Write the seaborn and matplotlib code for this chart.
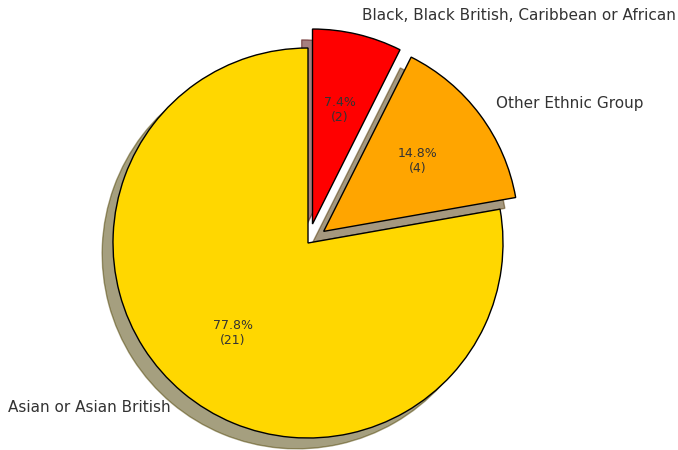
import matplotlib
matplotlib.use("Agg")
import matplotlib.pyplot as plt
import seaborn as sns

# ethnic group breakdown (counts)
groups = ["Black, Black British, Caribbean or African",
          "Other Ethnic Group",
          "Asian or Asian British"]
counts = [2, 4, 21]
slice_colors = ["#FF0000", "#FFA500", "#FFD700"]
explode = [0.1, 0.1, 0]

sns.set_theme(style="white")
plt.rcParams['font.family'] = ['DejaVu Sans']

total = sum(counts)


def pct_fmt(p):
    return f"{p:.1f}%\n({round(p * total / 100)})"


fig = plt.figure(figsize=(6.78, 4.5), dpi=100)
ax = fig.add_axes([0, 0, 1, 1])
wedges, texts, autotexts = ax.pie(
    counts, labels=groups, colors=sns.color_palette(slice_colors),
    explode=explode, startangle=90, counterclock=False,
    autopct=pct_fmt, shadow={'ox': -0.04, 'oy': -0.04},
    wedgeprops={'edgecolor': 'black', 'linewidth': 1},
    textprops={'fontsize': 11, 'color': '.2'})
for t in autotexts:
    t.set_fontsize(9)

ax.set_xlim(-1.5795, 1.8974)
ax.set_ylim(-1.0615, 1.2462)
ax.set_aspect('equal')

fig.savefig("out.png", dpi=100)
